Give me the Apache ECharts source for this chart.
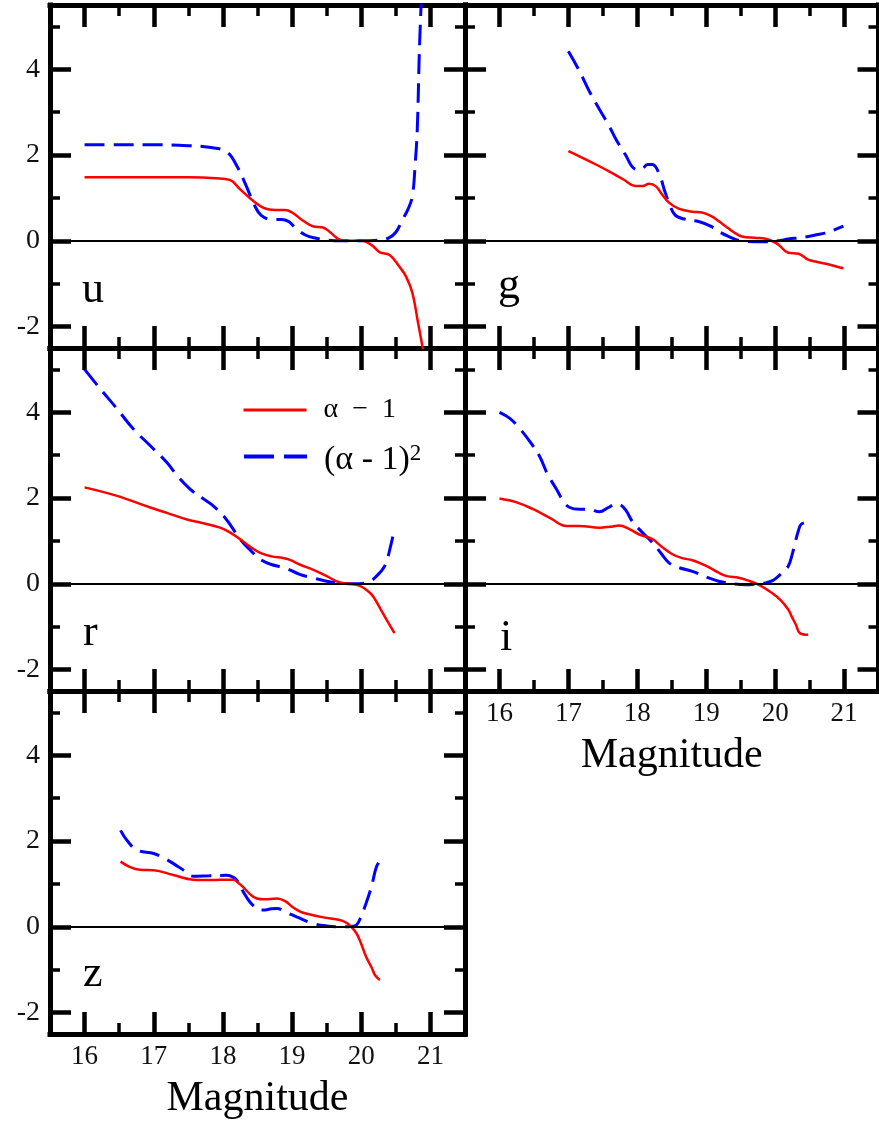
<!DOCTYPE html>
<html><head><meta charset="utf-8">
<script src="https://cdn.jsdelivr.net/npm/echarts@6/dist/echarts.min.js"></script>
<style>html,body{margin:0;padding:0;background:#fff}#c{width:879px;height:1123px}</style>
</head><body><div id="c"></div>
<script>
// ---- data ----
const bands = ['u', 'g', 'r', 'i', 'z'];
const majorX = [16, 17, 18, 19, 20, 21];
const minorX = [16.5, 17.5, 18.5, 19.5, 20.5];
const majorY = [-2, 0, 2, 4];
const minorY = [-1, 1, 3, 5];
const xRange = [15.5, 21.5];
const yRange = [-2.5, 5.5];
const seriesNames = ['α − 1', '(α - 1)^2'];
const axisTitle = 'Magnitude';

const uAlpha = [[16.0,1.48],[16.5,1.48],[17.0,1.48],[17.5,1.48],[17.9,1.46],[18.1,1.42],[18.25,1.2],[18.44,0.93],[18.6,0.76],[18.75,0.72],[18.9,0.72],[19.0,0.66],[19.15,0.48],[19.3,0.34],[19.45,0.31],[19.55,0.2],[19.7,0.02],[19.85,0.0],[20.0,0.01],[20.15,-0.1],[20.27,-0.27],[20.41,-0.33],[20.55,-0.6],[20.65,-0.84],[20.74,-1.22],[20.82,-1.9],[20.9,-2.6]];
const uAlphaSq = [[16.0,2.24],[16.5,2.24],[17.0,2.24],[17.5,2.22],[17.8,2.18],[18.05,2.08],[18.2,1.75],[18.34,1.27],[18.45,0.85],[18.55,0.6],[18.7,0.5],[18.85,0.5],[18.95,0.45],[19.05,0.3],[19.2,0.13],[19.35,0.06],[19.5,0.02],[19.7,0.0],[20.0,0.0],[20.27,0.02],[20.4,0.07],[20.5,0.2],[20.6,0.5],[20.68,0.75],[20.74,1.05],[20.78,1.8],[20.81,2.6],[20.84,4.4],[20.87,5.7]];
const gAlpha = [[17.0,2.09],[17.16,1.97],[17.4,1.78],[17.59,1.62],[17.8,1.43],[17.98,1.28],[18.08,1.28],[18.17,1.33],[18.27,1.27],[18.36,1.08],[18.46,0.89],[18.6,0.75],[18.8,0.68],[18.94,0.66],[19.08,0.57],[19.18,0.46],[19.28,0.34],[19.4,0.2],[19.52,0.1],[19.7,0.07],[19.86,0.05],[19.95,0.0],[20.05,-0.09],[20.19,-0.28],[20.34,-0.3],[20.48,-0.44],[20.6,-0.49],[20.72,-0.53],[20.85,-0.58],[20.99,-0.64]];
const gAlphaSq = [[17.0,4.42],[17.16,3.96],[17.3,3.5],[17.45,3.07],[17.6,2.65],[17.69,2.37],[17.83,2.0],[17.96,1.68],[18.05,1.66],[18.15,1.78],[18.22,1.78],[18.32,1.55],[18.4,1.15],[18.46,0.89],[18.55,0.6],[18.7,0.5],[18.89,0.45],[19.08,0.33],[19.2,0.2],[19.33,0.1],[19.5,0.0],[19.7,-0.02],[19.9,-0.02],[20.05,0.0],[20.19,0.04],[20.35,0.07],[20.48,0.1],[20.6,0.14],[20.72,0.18],[20.85,0.25],[20.99,0.34]];
const rAlpha = [[16.0,2.25],[16.47,2.05],[16.95,1.78],[17.2,1.65],[17.48,1.5],[17.7,1.42],[17.96,1.31],[18.1,1.2],[18.25,1.04],[18.4,0.86],[18.54,0.72],[18.7,0.64],[18.87,0.6],[18.97,0.56],[19.11,0.45],[19.3,0.33],[19.5,0.18],[19.69,0.03],[19.85,0.0],[19.98,-0.05],[20.08,-0.15],[20.17,-0.29],[20.31,-0.68],[20.48,-1.15]];
const rAlphaSq = [[16.0,5.0],[16.2,4.6],[16.47,4.08],[16.7,3.62],[16.95,3.22],[17.19,2.83],[17.35,2.5],[17.53,2.2],[17.7,2.0],[17.86,1.82],[18.05,1.5],[18.25,1.04],[18.4,0.78],[18.54,0.57],[18.7,0.45],[18.9,0.37],[19.11,0.22],[19.3,0.14],[19.5,0.06],[19.69,0.02],[19.9,0.0],[20.07,0.02],[20.15,0.08],[20.22,0.18],[20.3,0.32],[20.36,0.49],[20.42,0.85],[20.48,1.27]];
const iAlpha = [[16.0,1.99],[16.25,1.9],[16.49,1.74],[16.75,1.52],[16.97,1.35],[17.16,1.35],[17.45,1.31],[17.6,1.33],[17.74,1.36],[17.88,1.28],[18.03,1.15],[18.22,1.04],[18.35,0.87],[18.51,0.69],[18.65,0.6],[18.8,0.55],[19.0,0.42],[19.18,0.26],[19.3,0.18],[19.47,0.14],[19.6,0.08],[19.76,-0.02],[19.95,-0.21],[20.08,-0.38],[20.19,-0.6],[20.24,-0.76],[20.3,-0.95],[20.36,-1.15],[20.48,-1.19]];
const iAlphaSq = [[16.0,4.0],[16.15,3.86],[16.3,3.61],[16.45,3.3],[16.58,2.98],[16.7,2.55],[16.83,2.2],[16.93,1.92],[17.02,1.78],[17.16,1.74],[17.3,1.74],[17.45,1.68],[17.58,1.78],[17.69,1.86],[17.76,1.84],[17.84,1.7],[17.93,1.45],[18.03,1.27],[18.22,0.96],[18.35,0.7],[18.46,0.49],[18.6,0.38],[18.8,0.29],[19.0,0.16],[19.18,0.06],[19.4,0.0],[19.57,-0.02],[19.75,0.0],[19.86,0.02],[19.97,0.08],[20.05,0.18],[20.12,0.3],[20.19,0.41],[20.25,0.7],[20.29,0.96],[20.34,1.25],[20.38,1.39],[20.48,1.44]];
const zAlpha = [[16.52,1.52],[16.65,1.4],[16.8,1.33],[17.0,1.32],[17.28,1.21],[17.57,1.1],[17.86,1.09],[18.05,1.1],[18.15,1.1],[18.22,1.03],[18.29,0.93],[18.4,0.75],[18.49,0.66],[18.6,0.64],[18.78,0.66],[18.9,0.6],[19.0,0.47],[19.11,0.36],[19.2,0.31],[19.45,0.22],[19.69,0.16],[19.78,0.1],[19.83,0.04],[19.93,-0.15],[20.0,-0.4],[20.07,-0.7],[20.15,-0.95],[20.2,-1.13],[20.27,-1.24]];
const zAlphaSq = [[16.52,2.25],[16.62,2.0],[16.76,1.79],[17.0,1.71],[17.15,1.6],[17.28,1.48],[17.45,1.3],[17.57,1.18],[17.8,1.19],[18.05,1.2],[18.13,1.17],[18.2,1.09],[18.3,0.8],[18.39,0.58],[18.5,0.42],[18.58,0.39],[18.7,0.42],[18.78,0.43],[18.9,0.35],[19.11,0.2],[19.3,0.08],[19.5,0.02],[19.69,0.0],[19.85,0.01],[19.93,0.04],[20.0,0.25],[20.07,0.55],[20.15,0.95],[20.22,1.4],[20.29,1.59]];

// ---- layout / style ----
const FONT = '"Liberation Serif", "Times New Roman", serif';
const panels = [
  {band: bands[0], alpha: uAlpha, sq: uAlphaSq, grid: {left: 50, top: 5, width: 415, height: 343}, yLab: true, xLab: false, letter: [82, 268]},
  {band: bands[1], alpha: gAlpha, sq: gAlphaSq, grid: {left: 465, top: 5, width: 413.5, height: 343}, yLab: false, xLab: false, letter: [498, 264]},
  {band: bands[2], alpha: rAlpha, sq: rAlphaSq, grid: {left: 50, top: 348, width: 415, height: 343}, yLab: true, xLab: false, letter: [83, 611]},
  {band: bands[3], alpha: iAlpha, sq: iAlphaSq, grid: {left: 465, top: 348, width: 413.5, height: 343}, yLab: false, xLab: true, letter: [500, 616]},
  {band: bands[4], alpha: zAlpha, sq: zAlphaSq, grid: {left: 50, top: 691, width: 415, height: 343}, yLab: true, xLab: true, letter: [83, 952]}
];

function tickStyle(len) { return {color: '#000', width: len > 15 ? 4.5 : 3.5}; }
function xAxisDef(gi, pos, ticks, len, lineShow, labels, name) {
  return {
    type: 'value', gridIndex: gi, position: pos, min: xRange[0], max: xRange[1],
    axisLine: {show: lineShow, onZero: false, lineStyle: {color: '#000', width: 5, cap: 'square'}},
    axisTick: {show: true, inside: true, length: len, customValues: ticks, lineStyle: tickStyle(len)},
    axisLabel: {show: labels, customValues: ticks, margin: 9, color: '#111', fontSize: 27, fontFamily: FONT},
    splitLine: {show: false}, minorTick: {show: false},
    name: name || '', nameLocation: 'middle', nameGap: 44,
    nameTextStyle: {fontSize: 42, fontFamily: FONT, color: '#000'}
  };
}
function yAxisDef(gi, pos, ticks, len, lineShow, labels) {
  return {
    type: 'value', gridIndex: gi, position: pos, min: yRange[0], max: yRange[1],
    axisLine: {show: lineShow, onZero: false, lineStyle: {color: '#000', width: 5, cap: 'square'}},
    axisTick: {show: true, inside: true, length: len, customValues: ticks, lineStyle: tickStyle(len)},
    axisLabel: {show: labels, customValues: ticks, margin: 10, color: '#111', fontSize: 28, fontFamily: FONT},
    splitLine: {show: false}, minorTick: {show: false}
  };
}

const grid = [], xAxis = [], yAxis = [], series = [], title = [];
panels.forEach((p, gi) => {
  grid.push(Object.assign({containLabel: false}, p.grid));
  xAxis.push(xAxisDef(gi, 'bottom', majorX, 22, true, p.xLab, p.xLab ? axisTitle : ''));
  xAxis.push(xAxisDef(gi, 'bottom', minorX, 11, false, false));
  xAxis.push(xAxisDef(gi, 'top', majorX, 22, true, false));
  xAxis.push(xAxisDef(gi, 'top', minorX, 11, false, false));
  yAxis.push(yAxisDef(gi, 'left', majorY, 21, true, p.yLab));
  yAxis.push(yAxisDef(gi, 'left', minorY, 10, false, false));
  yAxis.push(yAxisDef(gi, 'right', majorY, 21, true, false));
  yAxis.push(yAxisDef(gi, 'right', minorY, 10, false, false));
  series.push({
    name: seriesNames[1], type: 'line', xAxisIndex: gi * 4, yAxisIndex: gi * 4,
    data: p.sq, symbol: 'none', smooth: 0.4, clip: true, z: 2,
    lineStyle: {color: '#0000ff', width: 3, type: [20, 9]}, itemStyle: {color: '#0000ff'}
  });
  series.push({
    name: seriesNames[0], type: 'line', xAxisIndex: gi * 4, yAxisIndex: gi * 4,
    data: p.alpha, symbol: 'none', smooth: 0.4, clip: true, z: 3,
    lineStyle: {color: '#ff0000', width: 2.5}, itemStyle: {color: '#ff0000'},
    markLine: {silent: true, symbol: 'none', label: {show: false}, animation: false,
      lineStyle: {color: '#000', width: 2, type: 'solid'}, data: [{yAxis: 0}]}
  });
  title.push({text: p.band, left: p.letter[0], top: p.letter[1], padding: 0,
    textStyle: {fontFamily: FONT, fontSize: 44, fontWeight: 'normal', color: '#000'}});
});

const legendBase = {
  orient: 'vertical', left: 237, itemWidth: 63, itemGap: 0,
  selectedMode: false,
  itemStyle: {opacity: 0, borderWidth: 0}
};
const legend = [
  Object.assign({}, legendBase, {
    data: [seriesNames[0]], itemHeight: 28, top: 387,
    lineStyle: {width: 3},
    textStyle: {fontFamily: FONT, fontSize: 28, lineHeight: 28, color: '#000', padding: [8, 0, 0, 12]},
    formatter: () => 'α  −  1'
  }),
  Object.assign({}, legendBase, {
    data: [seriesNames[1]], itemHeight: 36, top: 437,
    lineStyle: {width: 4, type: [30, 10]},
    textStyle: {fontFamily: FONT, fontSize: 34, color: '#000', padding: [8, 0, 0, 12],
      rich: {m: {fontFamily: FONT, fontSize: 34, color: '#000', lineHeight: 36},
             s: {fontFamily: FONT, fontSize: 23, color: '#000', verticalAlign: 'top', lineHeight: 36}}},
    formatter: () => '{m|(α - 1)}{s|2}'
  })
];

const chart = echarts.init(document.getElementById('c'), null, {renderer: 'canvas'});
chart.setOption({animation: false, backgroundColor: '#fff', grid, xAxis, yAxis, series, title, legend});
</script></body></html>
